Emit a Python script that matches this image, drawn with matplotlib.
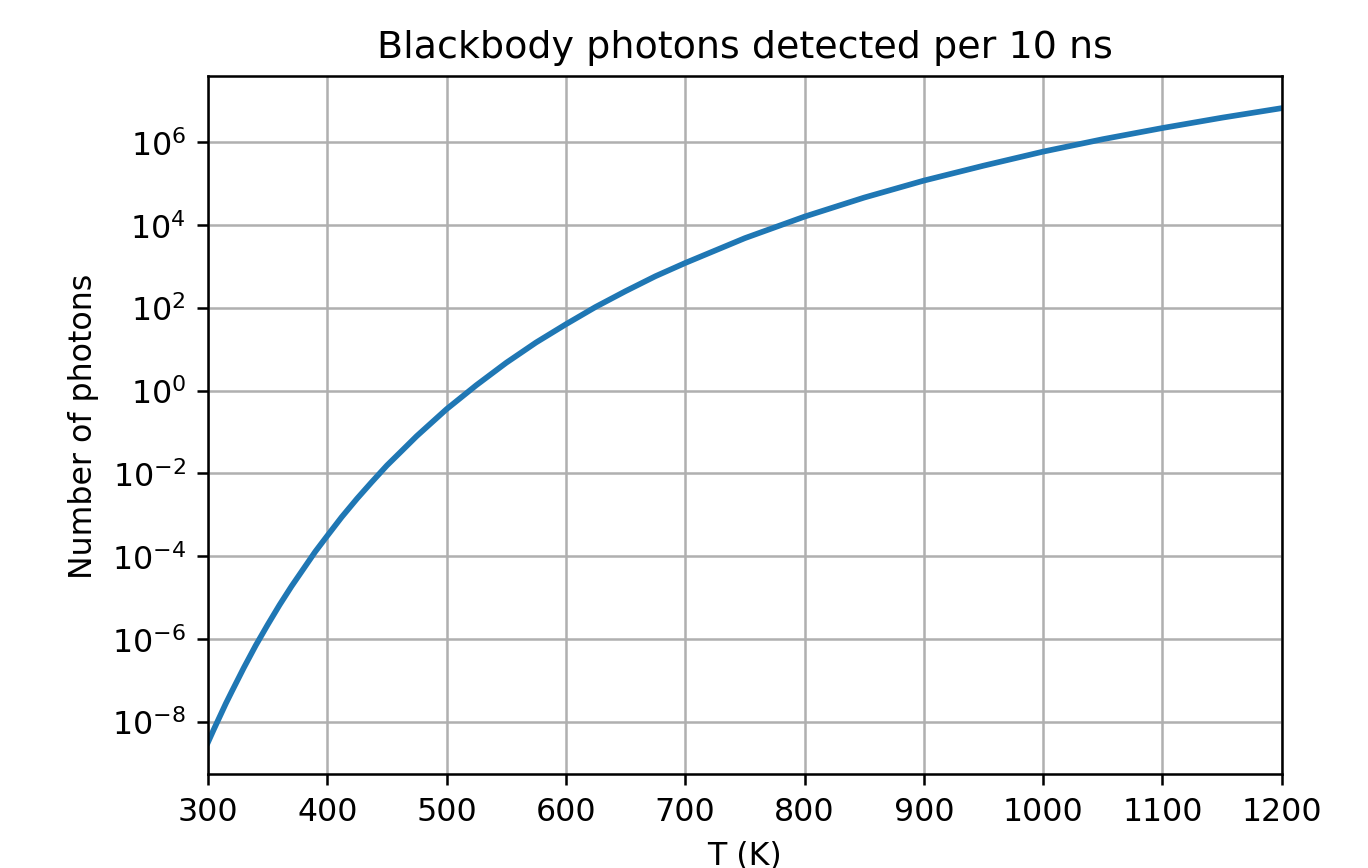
import numpy as np
import matplotlib
matplotlib.use('Agg')
import matplotlib.pyplot as plt

# temperature (K) and log10 of photon count
temps = [300, 305, 310, 315, 320, 330, 340, 350, 360, 370, 380, 390, 400,
         412, 425, 437, 450, 462, 475, 500, 525, 550, 575, 600, 625, 650,
         675, 700, 750, 800, 850, 900, 950, 1000, 1050, 1100, 1150, 1200]
log_counts = [-8.50, -8.18, -7.87, -7.56, -7.27, -6.70, -6.16, -5.66, -5.18,
              -4.73, -4.31, -3.89, -3.51, -3.06, -2.61, -2.22, -1.81, -1.47,
              -1.10, -0.45, 0.13, 0.67, 1.16, 1.60, 2.02, 2.40, 2.76, 3.08,
              3.68, 4.20, 4.66, 5.07, 5.43, 5.77, 6.07, 6.34, 6.59, 6.82]

counts = 10.0 ** np.array(log_counts)

fig = plt.figure(figsize=(6.0, 3.811), dpi=228)
ax = fig.add_axes([0.152, 0.108, 0.785, 0.803])
ax.semilogy(temps, counts, color='#1f77b4', lw=1.8)
ax.set_xlim(300, 1200)
ax.set_yticks([1e-8, 1e-6, 1e-4, 1e-2, 1e0, 1e2, 1e4, 1e6])
ax.minorticks_off()
ax.grid(True)
ax.set_title('Blackbody photons detected per 10 ns')
ax.set_xlabel('T (K)')
ax.set_ylabel('Number of photons')

fig.savefig('out.png', dpi=228)
